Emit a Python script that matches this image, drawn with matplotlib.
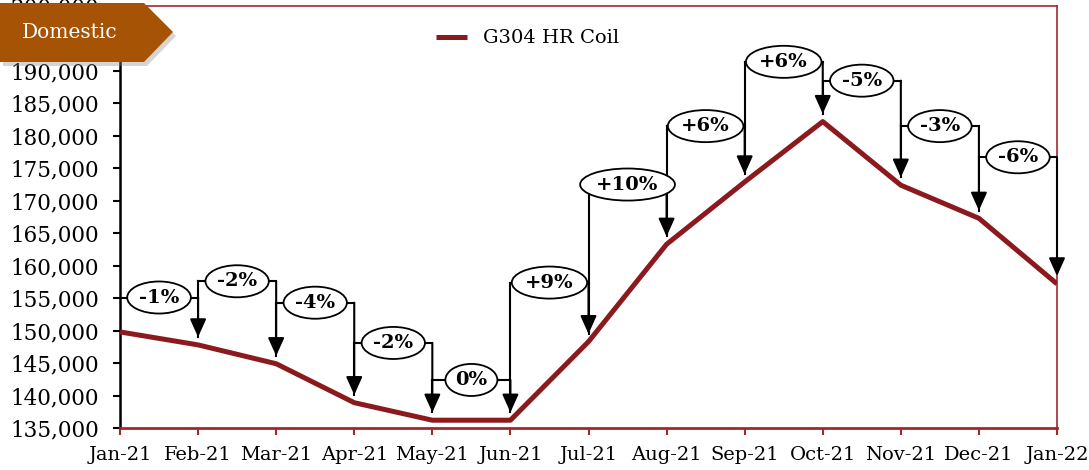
import matplotlib.pyplot as plt
from matplotlib.patches import Polygon

# G304 HR Coil, domestic price
months = ['Jan-21', 'Feb-21', 'Mar-21', 'Apr-21', 'May-21', 'Jun-21', 'Jul-21',
          'Aug-21', 'Sep-21', 'Oct-21', 'Nov-21', 'Dec-21', 'Jan-22']
prices = [149800, 147800, 144900, 138900, 136200, 136200, 148300,
          163300, 172900, 182200, 172400, 167300, 157200]
changes = ['-1%', '-2%', '-4%', '-2%', '0%', '+9%', '+10%', '+6%', '+6%', '-5%', '-3%', '-6%']
# height of each change bracket
bracket_levels = [155100, 157600, 154300, 148100, 142400, 157400,
                  172500, 181500, 191400, 188500, 181500, 176700]

line_col = '#8B1A1F'
spine_col = '#A3282C'
gap = 1200

plt.rcParams['font.family'] = ['DejaVu Serif']
fig = plt.figure(figsize=(10.89, 4.70), dpi=100)
ax = fig.add_axes([120/1089, 1-428/470, (1057-120)/1089, (428-6)/470])

x = list(range(len(months)))
ax.plot(x, prices, color=line_col, lw=3.6, solid_capstyle='butt', zorder=3, label='G304 HR Coil')

for i in range(len(changes)):
    h = bracket_levels[i]
    # left leg, horizontal, arrow down to next point
    ax.plot([x[i], x[i]], [h, prices[i]+gap], color='black', lw=1.5, zorder=4)
    ax.plot([x[i], x[i+1]], [h, h], color='black', lw=1.5, zorder=4)
    ax.annotate('', xy=(x[i+1], prices[i+1]+gap), xytext=(x[i+1], h),
                arrowprops=dict(arrowstyle='-|>,head_width=0.45,head_length=1.0',
                                lw=1.5, color='black', shrinkA=0, shrinkB=0,
                                mutation_scale=11), zorder=4)
    ax.text((x[i]+x[i+1])/2, h, changes[i], ha='center', va='center', fontsize=14,
            fontweight='bold', zorder=5,
            bbox=dict(boxstyle='ellipse,pad=0.12', fc='white', ec='black', lw=1.3))

ax.set_xlim(0, 12)
ax.set_ylim(135000, 200000)
ax.set_xticks(x)
ax.set_xticklabels(months, fontsize=14)
ax.set_yticks(range(135000, 200001, 5000))
ax.set_yticklabels([f'{v:,}' for v in range(135000, 200001, 5000)], fontsize=15.5)
ax.tick_params(axis='y', direction='out', length=5, width=1.5, color='black', pad=10)
ax.tick_params(axis='x', direction='out', length=5, width=1.5, color=spine_col, pad=8)

ax.spines['left'].set_color('black')
ax.spines['left'].set_linewidth(1.8)
ax.spines['bottom'].set_color(spine_col)
ax.spines['bottom'].set_linewidth(2)
for s in ['top', 'right']:
    ax.spines[s].set_color(spine_col)
    ax.spines[s].set_linewidth(1.2)

ax.legend(loc='upper center', bbox_to_anchor=(0.435, 1.0), frameon=False, fontsize=14,
          handlelength=1.6, borderaxespad=0.8)

# "Domestic" tag in top left corner
def px(xp, yp):
    return (xp/1089, 1-yp/470)

shadow = Polygon([px(3, 7), px(147, 7), px(176, 36), px(147, 66), px(3, 66)],
                 closed=True, transform=fig.transFigure, fc='#888888', alpha=0.35,
                 ec='none', zorder=9)
tag = Polygon([px(0, 3), px(144, 3), px(173, 32), px(144, 62), px(0, 62)],
              closed=True, transform=fig.transFigure, fc='#A65305', ec='none', zorder=10)
fig.patches.extend([shadow, tag])
fig.text(70/1089, 1-33/470, 'Domestic', color='white', fontsize=14.5,
         ha='center', va='center', zorder=11)

fig.savefig('out.png', dpi=100)
